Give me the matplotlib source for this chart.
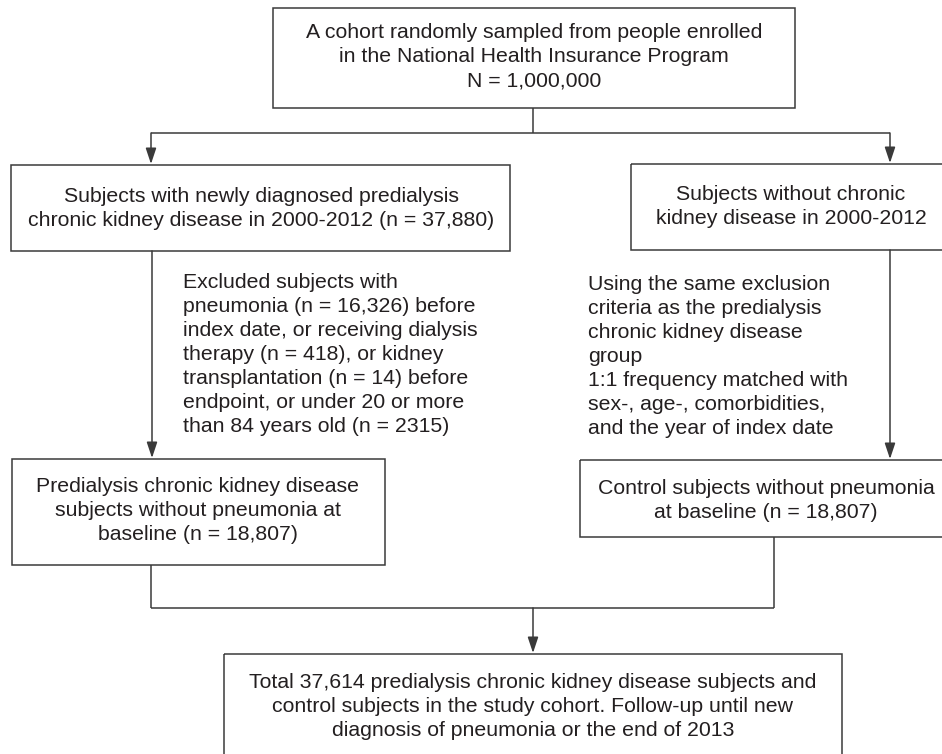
import matplotlib.pyplot as plt
from matplotlib.patches import Rectangle

# flowchart text, one list per box
top_lines = ["A cohort randomly sampled from people enrolled",
             "in the National Health Insurance Program",
             "N = 1,000,000"]
ckd_lines = ["Subjects with newly diagnosed predialysis",
             "chronic kidney disease in 2000-2012 (n = 37,880)"]
nockd_lines = ["Subjects without chronic",
               "kidney disease in 2000-2012"]
excluded_lines = ["Excluded subjects with",
                  "pneumonia (n = 16,326) before",
                  "index date, or receiving dialysis",
                  "therapy (n = 418), or kidney",
                  "transplantation (n = 14) before",
                  "endpoint, or under 20 or more",
                  "than 84 years old (n = 2315)"]
matching_lines = ["Using the same exclusion",
                  "criteria as the predialysis",
                  "chronic kidney disease",
                  "group",
                  "1:1 frequency matched with",
                  "sex-, age-, comorbidities,",
                  "and the year of index date"]
ckd_final_lines = ["Predialysis chronic kidney disease",
                   "subjects without pneumonia at",
                   "baseline (n = 18,807)"]
control_lines = ["Control subjects without pneumonia",
                 "at baseline (n = 18,807)"]
total_lines = ["Total 37,614 predialysis chronic kidney disease subjects and",
               "control subjects in the study cohort. Follow-up until new",
               "diagnosis of pneumonia or the end of 2013"]

LINE = "#3a3a3a"
TEXT = "#231f20"
FS = 15.3
STEP = 24

fig = plt.figure(figsize=(9.42, 7.54), dpi=100)
ax = fig.add_axes([0, 0, 1, 1])
ax.set_xlim(0, 942)
ax.set_ylim(754, 0)
ax.axis("off")


def box(x0, y0, x1, y1):
    ax.add_patch(Rectangle((x0, y0), x1 - x0, y1 - y0, fill=False,
                           edgecolor=LINE, lw=1.1))


def lines(txt, x, y0, ha="center"):
    for i, s in enumerate(txt):
        ax.text(x, y0 + i * STEP, s, ha=ha, va="center", fontsize=FS,
                color=TEXT, family=["Liberation Sans", "DejaVu Sans"])


def seg(xs, ys):
    ax.plot(xs, ys, color=LINE, lw=1.1, solid_capstyle="butt")


def arrow(x, y0, y1):
    ax.annotate("", xy=(x, y1), xytext=(x, y0),
                arrowprops=dict(arrowstyle="-|>,head_length=0.6,head_width=0.2",
                                color=LINE, lw=1.1, shrinkA=0, shrinkB=0,
                                mutation_scale=16))


# boxes
box(273, 8, 795, 108)
box(11, 165, 510, 251)
box(631, 164, 952, 250)
box(12, 459, 385, 565)
box(580, 460, 952, 537)
box(224, 654, 842, 790)

# texts
lines(top_lines, 534, 33)
lines(ckd_lines, 261, 196)
lines(nockd_lines, 791, 195)
lines(excluded_lines, 183, 283, ha="left")
lines(matching_lines, 588, 285, ha="left")
lines(ckd_final_lines, 198, 487)
lines(control_lines, 766, 488)
lines(total_lines, 533, 682)

# connectors
seg([533, 533], [108, 133])
seg([151, 890], [133, 133])
arrow(151, 133, 164)
arrow(890, 133, 163)
arrow(152, 251, 458)
arrow(890, 250, 459)
seg([151, 151], [565, 608])
seg([774, 774], [537, 608])
seg([151, 774], [608, 608])
arrow(533, 608, 653)

fig.savefig("out.png", dpi=100, facecolor="white")
